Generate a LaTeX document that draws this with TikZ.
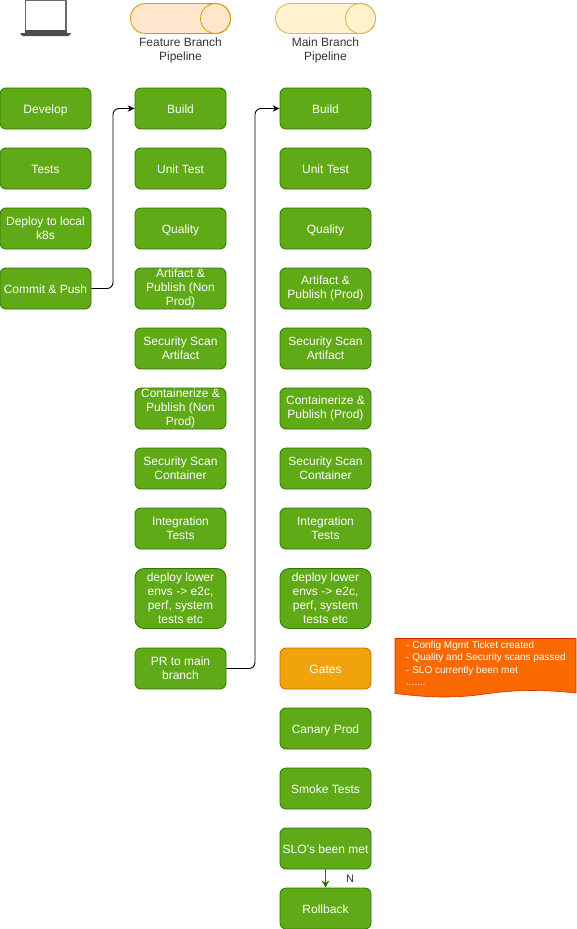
\documentclass[tikz,border=0pt]{standalone}
\usepackage{fontspec}
\setmainfont{Liberation Sans}
\definecolor{gfill}{HTML}{60A917}
\definecolor{gline}{HTML}{2D7600}
\definecolor{ofill}{HTML}{F0A30A}
\definecolor{oline}{HTML}{BD7000}
\definecolor{dfill}{HTML}{FA6800}
\definecolor{dline}{HTML}{C73500}
\definecolor{c1fill}{HTML}{FFE6CC}
\definecolor{c1line}{HTML}{D79B00}
\definecolor{c2fill}{HTML}{FFF2CC}
\definecolor{c2line}{HTML}{D6B656}
\definecolor{lab}{HTML}{333333}
\usetikzlibrary{arrows.meta}
\tikzset{
  stepbox/.style={draw=gline,fill=gfill,rounded corners=6pt,line width=0.8pt,minimum width=91pt,minimum height=41pt,inner sep=0pt,text=white,align=center,font=\fontsize{12}{14}\selectfont},
  onebox/.style={stepbox,text height=10.6pt,text depth=0pt},
  tallbox/.style={stepbox,minimum height=60pt,rounded corners=9pt},
  gatebox/.style={onebox,draw=oline,fill=ofill},
  caption/.style={text=lab,align=center,inner sep=0pt,font=\fontsize{12}{14}\selectfont},
  conn/.style={draw=black,line width=0.9pt,rounded corners=6pt,-{Stealth[length=7pt,width=6.5pt]}},
  greenconn/.style={draw=gline,line width=1.1pt,-{Stealth[length=7pt,width=7.5pt]}},
}
\begin{document}
\begin{tikzpicture}[x=1pt,y=-1pt]
\useasboundingbox (0,0) rectangle (576,929);
% laptop
\draw[draw=gray!85!black,line width=1.2pt,fill=white] (25.5,0) rectangle (66,31.5);
\fill[black!70] (25,30) rectangle (66.5,32.5);
\fill[black!70] (20.5,33) -- (70.5,33) -- (70.5,34.5) -- (68,36) -- (23,36) -- (20.5,34.5) -- cycle;
% cylinders
\draw[draw=c1line,fill=c1fill,line width=0.8pt,rounded corners=14.9pt] (130.5,3.5) rectangle (230.5,33.5);
\draw[draw=c1line,line width=0.8pt] (215.5,18.5) circle[radius=15];
\draw[draw=c2line,fill=c2fill,line width=0.8pt,rounded corners=14.9pt] (275.5,3.5) rectangle (375.5,33.5);
\draw[draw=c2line,line width=0.8pt] (360.5,18.5) circle[radius=15];
\node[caption] (cap1) at (180.5,50) {Feature Branch\\Pipeline};
\node[caption] (cap2) at (325.5,50) {Main Branch\\Pipeline};
% column 1
\node[onebox] (a1) at (45.5,108.5) {Develop};
\node[onebox] (a2) at (45.5,168.5) {Tests};
\node[stepbox] (a3) at (45.5,228.5) {Deploy to local\\k8s};
\node[onebox] (a4) at (45.5,288.5) {Commit \& Push};
% column 2
\node[onebox] (b1) at (180.5,108.5) {Build};
\node[onebox] (b2) at (180.5,168.5) {Unit Test};
\node[onebox] (b3) at (180.5,228.5) {Quality};
\node[stepbox] (b4) at (180.5,288.5) {Artifact \&\\Publish (Non\\Prod)};
\node[stepbox] (b5) at (180.5,348.5) {Security Scan\\Artifact};
\node[stepbox] (b6) at (180.5,408.5) {Containerize \&\\Publish (Non\\Prod)};
\node[stepbox] (b7) at (180.5,468.5) {Security Scan\\Container};
\node[stepbox] (b8) at (180.5,528.5) {Integration\\Tests};
\node[tallbox] (b9) at (180.5,598.5) {deploy lower\\envs -> e2c,\\perf, system\\tests etc};
\node[stepbox] (b10) at (180.5,668.5) {PR to main\\branch};
% column 3
\node[onebox] (c1) at (325.5,108.5) {Build};
\node[onebox] (c2) at (325.5,168.5) {Unit Test};
\node[onebox] (c3) at (325.5,228.5) {Quality};
\node[stepbox] (c4) at (325.5,288.5) {Artifact \&\\Publish (Prod)};
\node[stepbox] (c5) at (325.5,348.5) {Security Scan\\Artifact};
\node[stepbox] (c6) at (325.5,408.5) {Containerize \&\\Publish (Prod)};
\node[stepbox] (c7) at (325.5,468.5) {Security Scan\\Container};
\node[stepbox] (c8) at (325.5,528.5) {Integration\\Tests};
\node[tallbox] (c9) at (325.5,598.5) {deploy lower\\envs -> e2c,\\perf, system\\tests etc};
\node[gatebox] (c10) at (325.5,668.5) {Gates};
\node[onebox] (c11) at (325.5,728.5) {Canary Prod};
\node[onebox] (c12) at (325.5,788.5) {Smoke Tests};
\node[onebox] (c13) at (325.5,848.5) {SLO's been met};
\node[onebox] (c14) at (325.5,908.5) {Rollback};
% note
\draw[draw=dline,fill=dfill,line width=0.6pt] (395,638.5) -- (576,638.5) -- (576,693) .. controls (545,690) and (520,689) .. (485,694) .. controls (450,699) and (425,697) .. (395,693.5) -- cycle;
\node[anchor=north west,text=white,align=left,inner sep=0pt,font=\fontsize{10}{12.5}\selectfont] (note) at (406,641) {- Config Mgmt Ticket created\\- Quality and Security scans passed\\- SLO currently been met\\.......};
% connectors
\draw[conn] (a4.east) -- (113,288.5) -- (113,108.5) -- (b1.west);
\draw[conn] (b10.east) -- (255,668.5) -- (255,108.5) -- (c1.west);
\draw[greenconn] (c13.south) -- (c14.north);
\node[text=lab,inner sep=0pt,font=\fontsize{11}{13}\selectfont] (n) at (350,878.5) {N};
\end{tikzpicture}
\end{document}
